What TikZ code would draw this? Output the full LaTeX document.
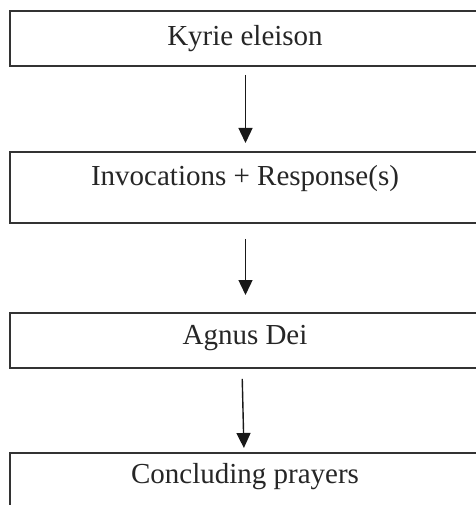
\documentclass[tikz,border=0pt]{standalone}
\usepackage{fontspec}
\setmainfont{Liberation Serif}
\usetikzlibrary{arrows.meta}
\definecolor{boxgray}{HTML}{333333}
\definecolor{txt}{HTML}{262626}
\begin{document}
\begin{tikzpicture}[x=1pt,y=-1pt,
  box/.style={draw=boxgray, line width=1.9pt, rectangle, inner sep=0pt,
    minimum width=470pt, anchor=north, font=\fontsize{29}{31}\selectfont, text=txt},
  arr/.style={draw=black!90, line width=1.4pt, -{Triangle[length=15pt,width=14pt]}}]
\fill[white] (0,0) rectangle (475,505);
\useasboundingbox (0,0) rectangle (475,505);

\node[box, text height=35pt, text depth=20pt] (b1) at (245,10) {Kyrie eleison};
\node[box, text height=34pt, text depth=37pt] (b2) at (245,151) {Invocations + Response(s)};
\node[box, text height=32pt, text depth=23pt] (b3) at (245,312) {Agnus Dei};
\node[box, text height=31pt, text depth=50pt] (b4) at (245,452) {Concluding prayers};

\draw[arr, shorten <=8pt, shorten >=8pt] ([xshift=0.5pt]b1.south) -- ([xshift=0.5pt]b2.north);
\draw[arr, shorten <=15pt, shorten >=17pt] ([xshift=0.5pt]b2.south) -- ([xshift=0.5pt]b3.north);
\draw[arr, shorten <=10pt, shorten >=4pt] ([xshift=-3pt]b3.south) -- ([xshift=-1pt]b4.north);
\end{tikzpicture}
\end{document}
